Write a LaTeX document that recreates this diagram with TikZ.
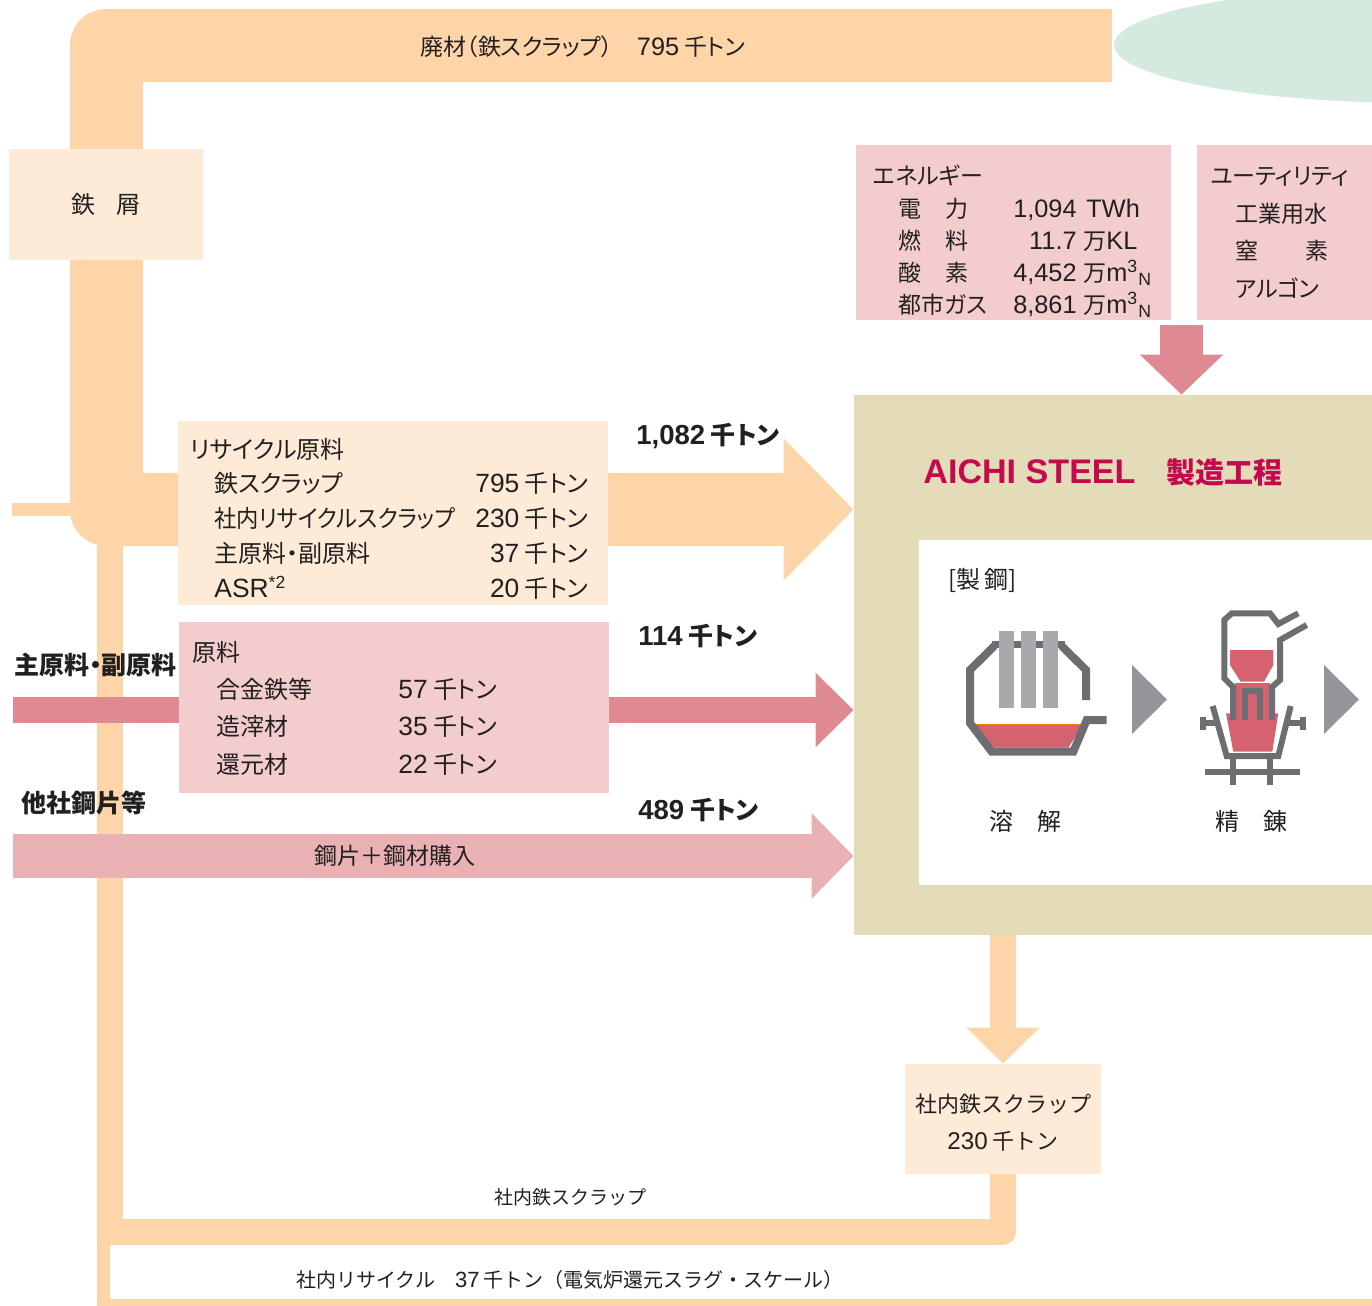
\documentclass[tikz,border=0pt]{standalone}
\usepackage{graphicx}
\usepackage{fontspec}
\setmainfont{Noto Sans CJK JP}[RawFeature=+palt]
\newfontfamily\widefont{Noto Sans CJK JP}
\newfontfamily\latinfont{Liberation Sans}[Scale=1.1]
\usetikzlibrary{arrows.meta, backgrounds}

\definecolor{ink}{HTML}{231F20}
\definecolor{pipe}{HTML}{FDD5A9}
\definecolor{cream}{HTML}{FDEBD7}
\definecolor{blush}{HTML}{F3CDCD}
\definecolor{rose}{HTML}{DF8A93}
\definecolor{salmon}{HTML}{EAB1B5}
\definecolor{sand}{HTML}{E4DBB9}
\definecolor{mint}{HTML}{D5EADF}
\definecolor{crimson}{HTML}{C40A4E}
\definecolor{iron}{HTML}{6D6E71}
\definecolor{rod}{HTML}{A7A9AC}
\definecolor{cue}{HTML}{939598}
\definecolor{melt}{HTML}{D6616F}

\newcommand{\lat}[1]{{\latinfont #1}}
\newcommand{\kt}[1]{\lat{#1} 千トン}
\newcommand{\spread}[3]{\makebox[#1][s]{#2\hfill#3}}

\begin{document}
\begin{tikzpicture}[
                x = 0.5pt, y = -0.5pt, % one unit per pixel, y downwards
                every node/.style = {inner sep = 0pt, text = ink,
                  font = \fontsize{12}{14}\selectfont},
                box/.style = {rectangle, inner sep = 0pt},
                row/.style = {anchor = base west},
                num/.style = {anchor = base east},
                small/.style = {font = \fontsize{11.5}{14}\selectfont},
                bold/.style = {font = \fontsize{12.5}{14}\selectfont\bfseries},
                wide/.style = {font = \widefont\fontsize{11}{13}\selectfont}
            ]

            \useasboundingbox (0,0) rectangle (1372,1306);

            % boxes
            \node[box, fill = cream, minimum width = 97pt, minimum height = 55.5pt]
            (tessho) at (106,204.5) {\spread{34.5pt}{鉄}{屑}};
            \node[box, fill = cream, minimum width = 215pt, minimum height = 92pt]
            (recycle) at (393,513) {};
            \node[box, fill = blush, minimum width = 215pt, minimum height = 85.5pt]
            (raw) at (394,707.5) {};
            \node[box, fill = blush, minimum width = 157.5pt, minimum height = 87.5pt]
            (energy) at (1013.5,232.5) {};
            \node[box, fill = blush, minimum width = 91.5pt, minimum height = 87.5pt]
            (utility) at (1288.5,232.5) {};
            \node[box, fill = sand, minimum width = 263pt, minimum height = 270pt]
            (gold) at (1117,665) {};
            \node[box, fill = white, minimum width = 230.5pt, minimum height = 172.5pt]
            (shop) at (1149.5,712.5) {};
            \node[box, fill = cream, minimum width = 98pt, minimum height = 55pt]
            (scrap) at (1003,1119) {};

            \coordinate (hub) at (106,509.5);
            \coordinate (sw) at (110,1231.5);
            \coordinate (mainsrc) at (13,710);
            \coordinate (billet) at (13,856);
            \coordinate (feed) at (1181.5,325);

            % flows
            \begin{scope}[on background layer = {line join = round}]
                \fill[mint] (1420,45) ellipse [x radius = 306, y radius = 58];
                \draw[pipe, line width = 36.5pt] (1112,45.5) -- (106,45.5) -- (hub)
                -- (recycle.west |- hub);
                \draw[pipe, line width = 6.5pt] (12,509.5) -- (hub);
                \draw[pipe, line width = 13pt] (scrap.south) -- (scrap.south |- sw)
                -- (sw) -- (sw |- hub);
                \fill[pipe] (97,1231) rectangle (110,1306);
                \fill[pipe] (97,1299) rectangle (1380,1306);
                \draw[pipe, line width = 36.5pt, -{Triangle[length = 35pt, width = 69pt]}]
                (recycle.east |- hub) -- (gold.west |- hub);
                \draw[rose, line width = 13pt] (mainsrc) -- (raw.west |- mainsrc);
                \draw[rose, line width = 13pt, -{Triangle[length = 19pt, width = 36pt]}]
                (raw.east |- mainsrc) -- (gold.west |- mainsrc);
                \draw[salmon, line width = 22pt, -{Triangle[length = 21pt, width = 41.5pt]}]
                (billet) -- node[pos = 0.455, small] (buy) {鋼片＋鋼材購入} (gold.west |- billet);
                \draw[rose, line width = 21.5pt, -{Triangle[length = 20pt, width = 40.5pt]}]
                (feed) -- (feed |- gold.north);
                \draw[pipe, line width = 13pt, -{Triangle[length = 18pt, width = 35.5pt]}]
                (scrap.north |- gold.south) -- (scrap.north);
            \end{scope}

            % labels
            \node[anchor = base, small] (waste) at (583,55)
            {廃材（鉄スクラップ）\hspace{12pt}\kt{795}};

            \node[row] (rhead) at (190,458.5) {リサイクル原料};
            \node[row] (r1) at (214,492.5) {鉄スクラップ};
            \node[row] (r2) at (214,527.5) {\scalebox{0.93}[1]{社内リサイクルスクラップ}};
            \node[row] (r3) at (214,562.5) {主原料・副原料};
            \node[row] (r4) at (214,597.5) {\lat{ASR}\textsuperscript{\lat{*2}}};
            \node[num] (rv1) at (589,492.5) {\kt{795}};
            \node[num] (rv2) at (589,527.5) {\kt{230}};
            \node[num] (rv3) at (589,562.5) {\kt{37}};
            \node[num] (rv4) at (589,597.5) {\kt{20}};

            \node[row] (mhead) at (192,661.5) {原料};
            \node[row] (m1) at (216,698.5) {合金鉄等};
            \node[row] (m2) at (216,735.5) {造滓材};
            \node[row] (m3) at (216,773.5) {還元材};
            \node[row] (mv1) at (398,698.5) {\kt{57}};
            \node[row] (mv2) at (398,735.5) {\kt{35}};
            \node[row] (mv3) at (398,773.5) {\kt{22}};

            \node[row, small] (ehead) at (873,184.4) {エネルギー};
            \node[row, small] (e1) at (898,217.4) {\spread{35pt}{電}{力}};
            \node[row, small] (e2) at (898,249.4) {\spread{35pt}{燃}{料}};
            \node[row, small] (e3) at (898,281.4) {\spread{35pt}{酸}{素}};
            \node[row, small] (e4) at (898,313.4) {都市ガス};
            \node[num, small] (ev1) at (1077,217.4) {\lat{1,094}};
            \node[num, small] (ev2) at (1077,249.4) {\lat{11.7}};
            \node[num, small] (ev3) at (1077,281.4) {\lat{4,452}};
            \node[num, small] (ev4) at (1077,313.4) {\lat{8,861}};
            \node[row, small] (eu1) at (1086,217.4) {\lat{TWh}};
            \node[row, small] (eu2) at (1083,249.4) {万\lat{KL}};
            \node[row, small] (eu3) at (1083,281.4)
            {万\lat{m\textsuperscript{3}\textsubscript{N}}};
            \node[row, small] (eu4) at (1083,313.4)
            {万\lat{m\textsuperscript{3}\textsubscript{N}}};

            \node[row, small] (uhead) at (1210,184.4) {ユーティリティ};
            \node[row, small] (u1) at (1235,222.4) {工業用水};
            \node[row, small] (u2) at (1235,259.4) {\spread{46.5pt}{窒}{素}};
            \node[row, small] (u3) at (1235,297.4) {アルゴン};

            \node[row, bold] (q1) at (636,444) {\kt{1,082}};
            \node[row, bold] (q2) at (638,645) {\kt{114}};
            \node[row, bold] (q3) at (638,819) {\kt{489}};
            \node[row, bold] (src1) at (14,674) {主原料・副原料};
            \node[row, bold] (src2) at (21,812) {他社鋼片等};

            \node[row, text = crimson, font = \fontsize{15.5}{18}\selectfont\bfseries]
            (brand) at (923,483.5) {\lat{AICHI STEEL}};
            \node[row, text = crimson, font = \fontsize{14.5}{18}\selectfont\bfseries]
            (brandjp) at (1166,483.5) {製造工程};

            \node[row] (shopname) at (948,588) {[製\,鋼]};
            \node (melting) at (1025,821) {\spread{36pt}{溶}{解}};
            \node (refining) at (1251,821) {\spread{36pt}{精}{錬}};

            \node[anchor = base, wide] (s1) at (1003,1112) {社内鉄スクラップ};
            \node[anchor = base, wide] (s2) at (1003,1149) {\kt{230}};
            \node[anchor = base, font = \widefont\fontsize{9.5}{12}\selectfont]
            (loop1) at (570,1204) {社内鉄スクラップ};
            \node[anchor = base, font = \widefont\fontsize{10}{12}\selectfont]
            (loop2) at (570,1287)
            {社内リサイクル\hspace{10pt}\kt{37}（電気炉還元スラグ・スケール）};

            % electric furnace
            \fill[melt] (975,724.3) -- (1083.3,724.3) -- (1068.3,747.7)
            -- (993.3,747.7) -- cycle;
            \draw[orange, line width = 0.6pt] (975,724.3) -- (1083.3,724.3);
            \draw[iron, line width = 4pt, line join = miter] (994.3,646) -- (970,670)
            -- (970,723) -- (991.7,751.7) -- (1073.3,751.7) -- (1086.7,720)
            -- (1106.7,720);
            \draw[iron, line width = 4pt, line join = miter] (1061.7,646) -- (1086,670)
            -- (1086,700);
            \fill[iron] (991.7,640.7) rectangle (1065,648.3);
            \foreach \x in {999.3, 1020.7, 1042.7}
                \fill[rod] (\x,631) rectangle ++(15,77);

            \fill[cue] (1132,665) -- (1167,699.5) -- (1132,734) -- cycle;
            \fill[cue] (1324,665) -- (1359,699.5) -- (1324,734) -- cycle;

            % ladle refining
            \fill[melt] (1230,650) -- (1273.3,650) -- (1273.3,665) -- (1264,681.7)
            -- (1240.7,681.7) -- (1230,665) -- cycle;
            \fill[melt] (1235,683) rectangle (1270,718);
            \fill[melt] (1226,713.3) -- (1278.3,713.3) -- (1272.3,751.7)
            -- (1233.3,751.7) -- cycle;
            \begin{scope}[iron, line width = 3pt, line join = miter]
                \draw (1233,720) -- (1233,687) -- (1224.3,678.3) -- (1224.3,620)
                -- (1231.7,613.3) -- (1270,613.3) -- (1278.3,624) -- (1298.3,613.3);
                \draw (1306.7,625) -- (1280,640) -- (1280,680) -- (1272,687)
                -- (1272,720);
                \draw (1245,720) -- (1245,691) -- (1260,691) -- (1260,720);
                \draw (1212.7,706) -- (1226.7,756) -- (1278.3,756) -- (1290.7,706);
                \draw (1202.7,723.3) -- (1217,723.3);
                \draw (1202.7,716.7) -- (1202.7,730);
                \draw (1287,723.3) -- (1302.7,723.3);
                \draw (1302.7,716.7) -- (1302.7,730);
                \draw (1205,771.7) -- (1300,771.7);
                \draw (1233.3,756) -- (1233.3,785);
                \draw (1270,756) -- (1270,785);
            \end{scope}

        \end{tikzpicture}
\end{document}
